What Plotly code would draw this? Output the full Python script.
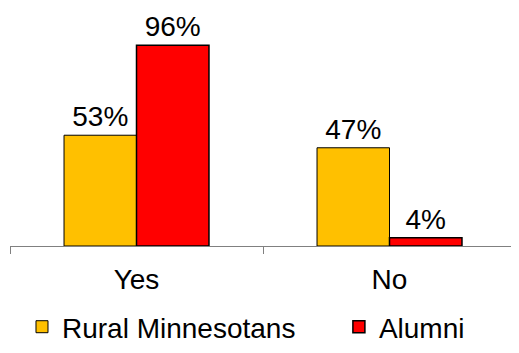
import plotly.graph_objects as go

categories = ["Yes", "No"]
rural = [53, 47]
alumni = [96, 4]
series_names = ["Rural Minnesotans", "Alumni"]

font = "Liberation Sans, Arial, sans-serif"
FS = 28

fig = go.Figure()
fig.add_trace(go.Bar(x=categories, y=rural, name=series_names[0], legend="legend",
                     marker=dict(color="#FFC000", line=dict(color="#000000", width=1)),
                     text=[f"{v}%" for v in rural], textposition="outside",
                     textfont=dict(size=FS, color="black", family=font), cliponaxis=False))
fig.add_trace(go.Bar(x=categories, y=alumni, name=series_names[1], legend="legend2",
                     marker=dict(color="#FF0000", line=dict(color="#000000", width=1.5)),
                     text=[f"{v}%" for v in alumni], textposition="outside",
                     textfont=dict(size=FS, color="black", family=font), cliponaxis=False))

leg_common = dict(orientation="h", yanchor="middle", y=-0.3876, xanchor="left",
                  font=dict(size=FS, family=font, color="black"),
                  bgcolor="rgba(0,0,0,0)", borderwidth=0)

fig.update_layout(
    width=519, height=353,
    margin=dict(l=2, r=11, t=29, b=115, autoexpand=False),
    plot_bgcolor="white", paper_bgcolor="white",
    barmode="group", bargap=0.427, bargroupgap=0,
    font=dict(family=font, size=FS, color="black"),
    showlegend=True,
    legend=dict(x=0.0237, **leg_common),
    legend2=dict(x=0.650, **leg_common),
)
fig.update_xaxes(showline=True, linecolor="#808080", linewidth=1,
                 ticks="outside", tickson="boundaries", ticklen=7, tickcolor="#808080",
                 tickfont=dict(size=FS), ticklabelstandoff=8, showgrid=False)
fig.update_yaxes(range=[0, 100], visible=False, showgrid=False)

fig.write_html("out.html")
